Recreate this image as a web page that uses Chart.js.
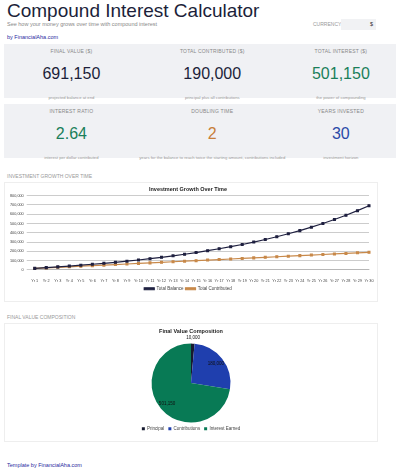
<!DOCTYPE html>
<html>
<head>
<meta charset="utf-8">
<script src="https://cdn.jsdelivr.net/npm/chart.js@4"></script>
<style>
  body { margin: 0; width: 400px; height: 472px; font-family: "Liberation Sans", Arial, sans-serif; background: #fff; color: #1c1f3a; overflow: hidden; position: relative; }
  .abs { position: absolute; }
  h1 { position: absolute; left: 7px; top: 0px; margin: 0; font-size: 19px; font-weight: normal; color: #1c1f3a; }
  .sub { left: 7px; top: 21px; font-size: 5.5px; color: #888; }
  .cur { left: 313px; top: 21px; font-size: 5px; color: #999; }
  .curbox { left: 341px; top: 19px; width: 35px; height: 11px; background: #f1f2f4; font-size: 5.5px; text-align: right; line-height: 11px; }
  .curbox span { padding-right: 3px; color: #333; }
  a { color: #2a2aa0; font-size: 5.5px; }
  .row { left: 4px; width: 392px; background: #f0f1f4; display: flex; }
  .card { flex: 1; text-align: center; position: relative; }
  .lbl { font-size: 5px; color: #888; margin-top: 4px; letter-spacing: 0.2px; }
  .val { font-size: 16px; margin-top: 11px; }
  .note { font-size: 4.2px; color: #999; margin-top: 12px; }
  .sec { left: 7px; font-size: 5px; color: #999; }
  .box { left: 4px; width: 372px; border: 1px solid #eee; background: #fff; }
</style>
</head>
<body>
<h1>Compound Interest Calculator</h1>
<div class="abs sub">See how your money grows over time with compound interest</div>
<div class="abs cur">CURRENCY</div>
<div class="abs curbox"><span>$</span></div>
<a class="abs" style="left:7px;top:34px;">by FinancialAha.com</a>

<div class="abs row" style="top:44px;height:54px;">
  <div class="card" style="flex:1.1"><div class="lbl">FINAL VALUE ($)</div><div class="val">691,150</div><div class="note">projected balance at end</div></div>
  <div class="card" style="flex:1.2"><div class="lbl">TOTAL CONTRIBUTED ($)</div><div class="val">190,000</div><div class="note">principal plus all contributions</div></div>
  <div class="card" style="flex:0.9"><div class="lbl">TOTAL INTEREST ($)</div><div class="val" style="color:#1a7f5a">501,150</div><div class="note">the power of compounding</div></div>
</div>
<div class="abs row" style="top:104px;height:54px;">
  <div class="card" style="flex:1.1"><div class="lbl">INTEREST RATIO</div><div class="val" style="color:#1a7f5a">2.64</div><div class="note">interest per dollar contributed</div></div>
  <div class="card" style="flex:1.2"><div class="lbl">DOUBLING TIME</div><div class="val" style="color:#c87f3a">2</div><div class="note">years for the balance to reach twice the starting amount, contributions included</div></div>
  <div class="card" style="flex:0.9"><div class="lbl">YEARS INVESTED</div><div class="val" style="color:#2a4aa8">30</div><div class="note">investment horizon</div></div>
</div>

<div class="abs sec" style="top:173px;">INVESTMENT GROWTH OVER TIME</div>
<div class="abs box" style="top:182px;height:118px;"><canvas id="growthChart"></canvas></div>

<div class="abs sec" style="top:314px;">FINAL VALUE COMPOSITION</div>
<div class="abs box" style="top:323px;height:117px;"><canvas id="pieChart"></canvas></div>

<a class="abs" style="left:7px;top:462px;">Template by FinancialAha.com</a>

<script>
const years = ['Yr 1','Yr 2','Yr 3','Yr 4','Yr 5','Yr 6','Yr 7','Yr 8','Yr 9','Yr 10','Yr 11','Yr 12','Yr 13','Yr 14','Yr 15','Yr 16','Yr 17','Yr 18','Yr 19','Yr 20','Yr 21','Yr 22','Yr 23','Yr 24','Yr 25','Yr 26','Yr 27','Yr 28','Yr 29','Yr 30'];
const totalBalance = [17000, 25000, 33000, 42000, 51000, 61000, 71000, 82000, 94000, 107000, 121000, 136000, 152000, 169000, 187000, 207000, 228000, 250000, 274000, 300000, 328000, 357000, 389000, 423000, 460000, 500000, 543000, 589000, 638000, 691150];
const totalContributed = [16000, 22000, 28000, 34000, 40000, 46000, 52000, 58000, 64000, 70000, 76000, 82000, 88000, 94000, 100000, 106000, 112000, 118000, 124000, 130000, 136000, 142000, 148000, 154000, 160000, 166000, 172000, 178000, 184000, 190000];
const compLabels = ['Principal', 'Contributions', 'Interest Earned'];
const compValues = [10000, 180000, 501150];

Chart.defaults.font.family = '"Liberation Sans", Arial, sans-serif';
Chart.defaults.font.size = 4.5;
Chart.defaults.color = '#444';
Chart.defaults.animation = false;

new Chart(document.querySelector('#growthChart'), {
  type: 'line',
  data: {
    labels: years,
    datasets: [
      { label: 'Total Balance', data: totalBalance, borderColor: '#1f2040', backgroundColor: '#1f2040', borderWidth: 1.2, pointRadius: 1.3, pointStyle: 'rect' },
      { label: 'Total Contributed', data: totalContributed, borderColor: '#c8894a', backgroundColor: '#c8894a', borderWidth: 1.2, pointRadius: 1.3, pointStyle: 'rect' },
    ],
  },
  options: {
    responsive: true,
    maintainAspectRatio: false,
    layout: { padding: { left: 2, right: 8, top: 0, bottom: 0 } },
    plugins: {
      title: { display: true, text: 'Investment Growth Over Time', font: { size: 5.5, weight: 'bold' }, color: '#222', padding: { top: 3, bottom: 3 } },
      legend: { position: 'bottom', labels: { boxWidth: 10, boxHeight: 2, padding: 2 } },
    },
    scales: {
      x: { grid: { display: false }, ticks: { autoSkip: false, maxRotation: 0, padding: 1, font: { size: 3.8 } } },
      y: { min: 0, max: 800000, ticks: { stepSize: 100000, callback: (v) => v.toLocaleString('en-US'), font: { size: 3.8 } }, grid: { color: '#ccc' }, border: { display: false } },
    },
  },
});

const sliceLabels = {
  id: 'sliceLabels',
  afterDatasetsDraw(chart) {
    const ctx = chart.ctx;
    const meta = chart.getDatasetMeta(0);
    ctx.save();
    ctx.font = '4.5px "Liberation Sans", Arial';
    ctx.fillStyle = '#111';
    ctx.textAlign = 'center';
    meta.data.forEach((arc, i) => {
      const value = compValues[i].toLocaleString('en-US');
      const a = (arc.startAngle + arc.endAngle) / 2;
      const r = i === 0 ? arc.outerRadius + 6 : arc.outerRadius * 0.8;
      ctx.fillText(value, arc.x + Math.cos(a) * r, arc.y + Math.sin(a) * r);
    });
    ctx.restore();
  },
};

new Chart(document.querySelector('#pieChart'), {
  type: 'pie',
  data: { labels: compLabels, datasets: [{ data: compValues, backgroundColor: ['#161a2e', '#1f3fae', '#087a55'], borderWidth: 0 }] },
  options: {
    responsive: true,
    maintainAspectRatio: false,
    plugins: {
      title: { display: true, text: 'Final Value Composition', font: { size: 5.5, weight: 'bold' }, color: '#222', padding: { top: 4, bottom: 9 } },
      legend: { position: 'bottom', labels: { boxWidth: 3, boxHeight: 3, padding: 4 } },
      tooltip: { enabled: false },
    },
  },
  plugins: [sliceLabels],
});
</script>
</body>
</html>
